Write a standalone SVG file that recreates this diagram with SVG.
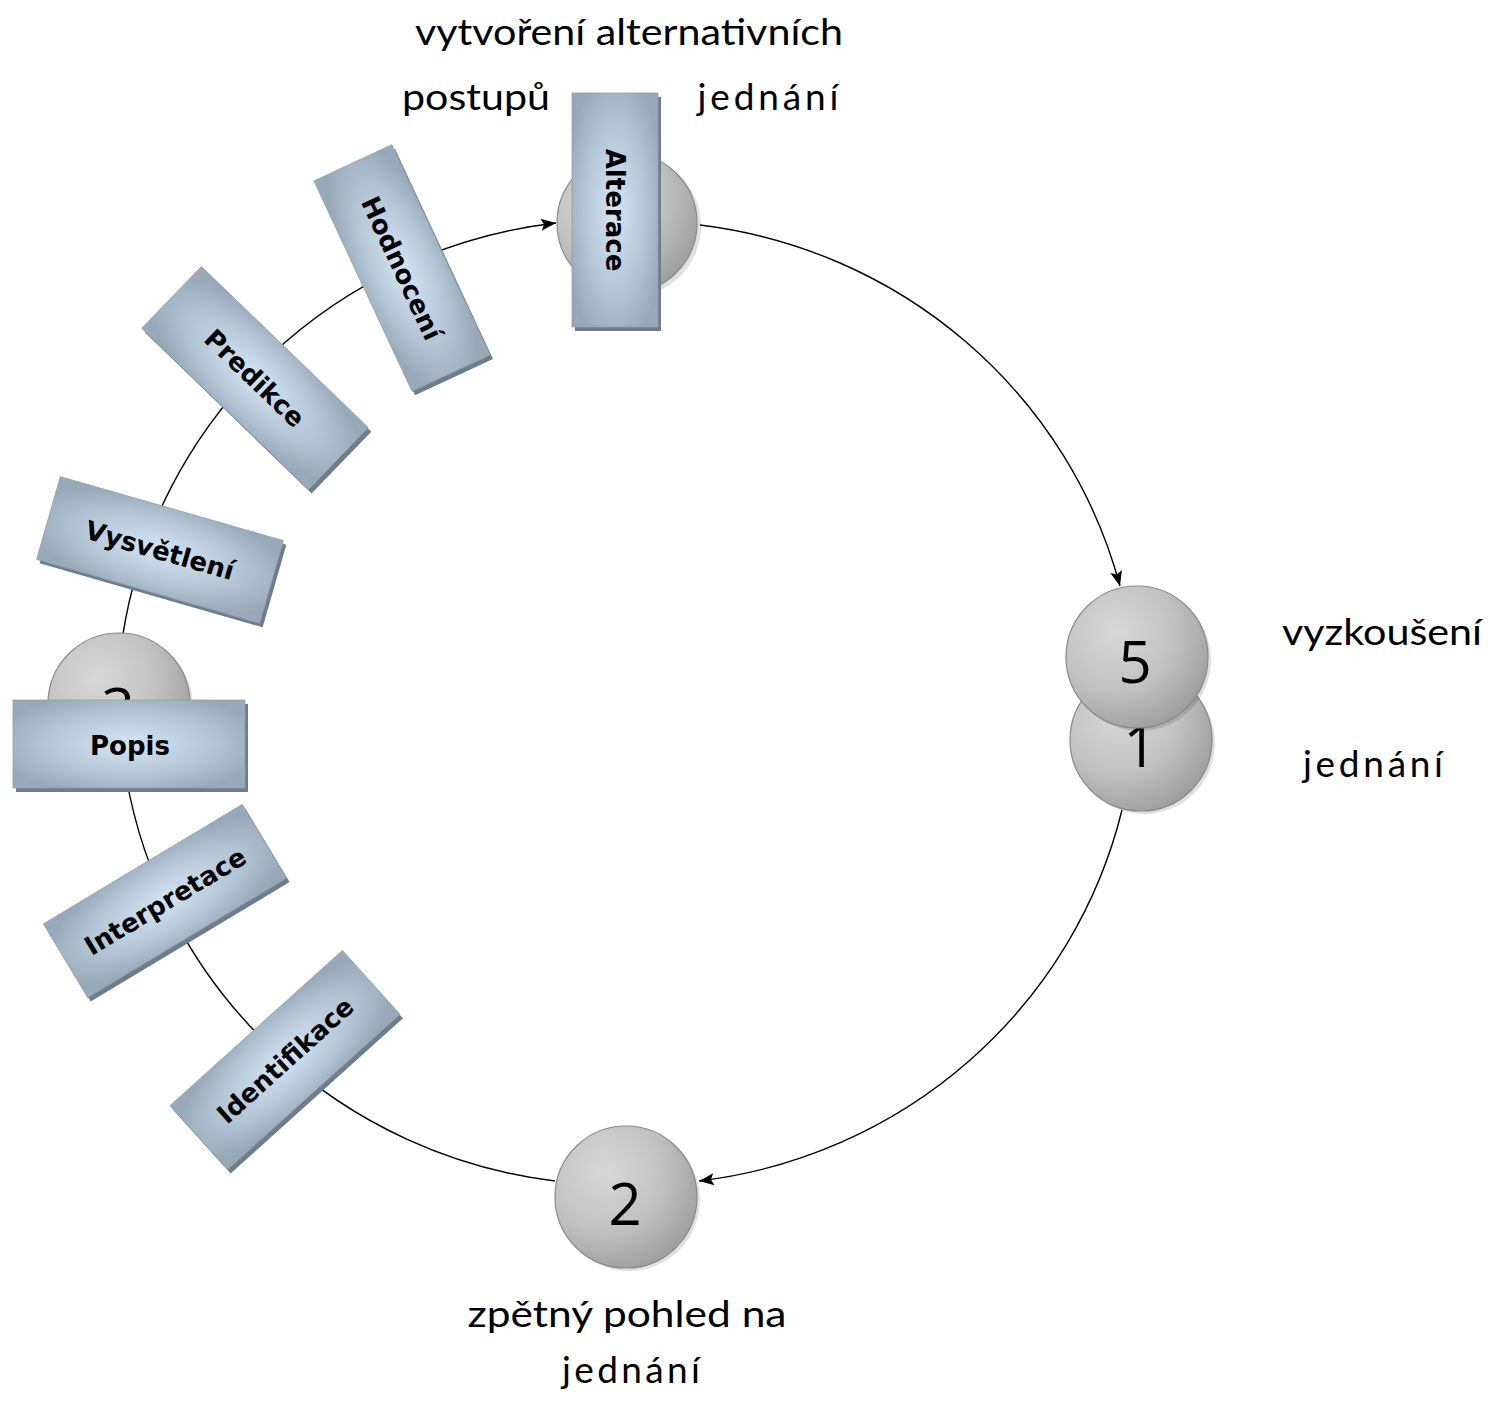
<svg xmlns="http://www.w3.org/2000/svg" width="1491" height="1406" viewBox="0 0 1491 1406">
<defs>
<radialGradient id="gBall" cx="0.35" cy="0.32" r="0.75">
<stop offset="0" stop-color="#d8d8d8"/>
<stop offset="0.55" stop-color="#c2c2c2"/>
<stop offset="1" stop-color="#9c9c9c"/>
</radialGradient>
<radialGradient id="gBox" cx="0.5" cy="0.5" r="0.6">
<stop offset="0" stop-color="#d4e5f5"/>
<stop offset="0.6" stop-color="#b4c5d5"/>
<stop offset="1" stop-color="#97a8b8"/>
</radialGradient>
<clipPath id="clip3">
<rect x="40" y="620" width="160" height="80"/>
</clipPath>
<marker id="arr" markerUnits="userSpaceOnUse" markerWidth="16" markerHeight="12" refX="15" refY="6" orient="auto">
<path d="M0,0 L15,6 L0,12 L3,6 z" fill="#000"/>
</marker>
<style>
.ball{fill:url(#gBall);stroke:#8a8a8a;stroke-width:1.2}
.ballsh{fill:#000;opacity:0.12}
.box{fill:url(#gBox);stroke:#8fa0b0;stroke-width:0.8}
.boxsh{fill:#6f7d8a}
.blab{font-family:"DejaVu Sans",sans-serif;font-weight:bold;font-size:26px;fill:#000;text-anchor:middle}
.num{font-family:"Open Sans","DejaVu Sans",sans-serif;font-size:58px;fill:#000;text-anchor:middle}
.lab{font-family:Lato,"Open Sans",sans-serif;font-size:37px;fill:#000;text-anchor:middle}
.con{fill:none;stroke:#000;stroke-width:1.4}
</style>
</defs>
<rect width="1491" height="1406" fill="#fff"/>

<g id="connectors">
<path class="con" d="M700,225 A497,490 0 0 1 1120,586" marker-end="url(#arr)"/>
<path class="con" d="M1122,810 A497,490 0 0 1 699,1181" marker-end="url(#arr)"/>
<path class="con" d="M555,1181 A497,490 0 0 1 126,776"/>
<path class="con" d="M123,634 A497,490 0 0 1 556,223" marker-end="url(#arr)"/>
</g>

<g id="node-top-circle">
<circle class="ballsh" cx="630" cy="226" r="71"/>
<circle class="ball" cx="627" cy="223" r="70"/>
</g>
<g id="node-1">
<circle class="ballsh" cx="1144" cy="743" r="71"/>
<circle class="ball" cx="1141" cy="740" r="71"/>
<text class="num" x="1140" y="767">1</text>
</g>
<g id="node-5">
<circle class="ballsh" cx="1140" cy="660" r="71"/>
<circle class="ball" cx="1137" cy="657" r="71"/>
<text class="num" x="1135" y="683">5</text>
</g>
<g id="node-2">
<circle class="ballsh" cx="629" cy="1200" r="71"/>
<circle class="ball" cx="626" cy="1197" r="71"/>
<text class="num" x="625" y="1225">2</text>
</g>
<g id="node-3">
<circle class="ballsh" cx="122" cy="707" r="71"/>
<circle class="ball" cx="119" cy="704" r="71"/>
<g clip-path="url(#clip3)"><text class="num" x="118" y="730">3</text></g>
</g>

<g id="node-alterace">
<g transform="translate(618,214) rotate(90)"><rect class="boxsh" x="-117" y="-43" width="234" height="86"/></g>
<g transform="translate(615,210) rotate(90)"><rect class="box" x="-117" y="-43" width="234" height="86"/>
<text class="blab" x="0" y="9.5">Alterace</text></g>
</g>
<g id="node-hodnoceni">
<g transform="translate(405,272) rotate(65)"><rect class="boxsh" x="-116" y="-43" width="232" height="86"/></g>
<g transform="translate(402,268) rotate(65)"><rect class="box" x="-116" y="-43" width="232" height="86"/>
<text class="blab" x="0" y="9.5">Hodnocení</text></g>
</g>
<g id="node-predikce">
<g transform="translate(258,382) rotate(44)"><rect class="boxsh" x="-116" y="-43" width="232" height="86"/></g>
<g transform="translate(255,378) rotate(44)"><rect class="box" x="-116" y="-43" width="232" height="86"/>
<text class="blab" x="0" y="9.5">Predikce</text></g>
</g>
<g id="node-vysvetleni">
<g transform="translate(163,554) rotate(16)"><rect class="boxsh" x="-116" y="-43" width="232" height="86"/></g>
<g transform="translate(160,550) rotate(16)"><rect class="box" x="-116" y="-43" width="232" height="86"/>
<text class="blab" x="0" y="9.5">Vysvětlení</text></g>
</g>
<g id="node-popis">
<rect class="boxsh" x="16" y="704" width="232" height="88"/>
<rect class="box" x="13" y="700" width="232" height="88"/>
<text class="blab" x="130" y="755">Popis</text>
</g>
<g id="node-interpretace">
<g transform="translate(168,905) rotate(-31)"><rect class="boxsh" x="-116" y="-43" width="232" height="86"/></g>
<g transform="translate(165,901) rotate(-31)"><rect class="box" x="-116" y="-43" width="232" height="86"/>
<text class="blab" x="0" y="9.5">Interpretace</text></g>
</g>
<g id="node-identifikace">
<g transform="translate(288,1064) rotate(-42)"><rect class="boxsh" x="-116" y="-43" width="232" height="86"/></g>
<g transform="translate(285,1060) rotate(-42)"><rect class="box" x="-116" y="-43" width="232" height="86"/>
<text class="blab" x="0" y="9.5">Identifikace</text></g>
</g>

<g id="labels">
<text class="lab" x="629" y="45" textLength="428" lengthAdjust="spacingAndGlyphs">vytvoření alternativních</text>
<text class="lab" x="476" y="110" textLength="148" lengthAdjust="spacingAndGlyphs">postupů</text>
<text class="lab" x="768" y="110" textLength="141" lengthAdjust="spacing">jednání</text>
<text class="lab" x="1382" y="645" textLength="200" lengthAdjust="spacingAndGlyphs">vyzkoušení</text>
<text class="lab" x="1373" y="777" textLength="140" lengthAdjust="spacing">jednání</text>
<text class="lab" x="627" y="1327" textLength="319" lengthAdjust="spacingAndGlyphs">zpětný pohled na</text>
<text class="lab" x="631" y="1383" textLength="138" lengthAdjust="spacing">jednání</text>
</g>
</svg>
